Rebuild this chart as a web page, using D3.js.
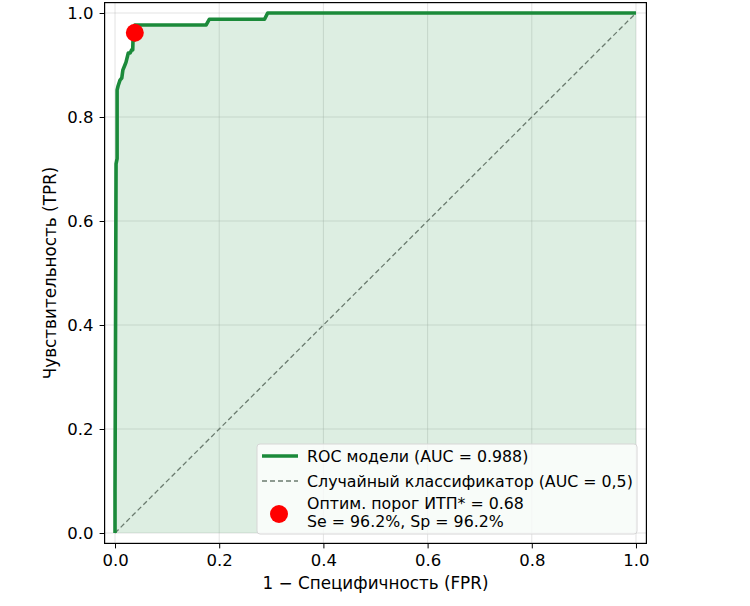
<!DOCTYPE html>
<html>
<head>
<meta charset="utf-8">
<title>ROC</title>
<script src="https://cdn.jsdelivr.net/npm/d3@7"></script>
<style>
  body { margin: 0; background: #fff; }
  text { font-family: "DejaVu Sans", sans-serif; }
</style>
</head>
<body>
<script>
// ROC curve points
var fpr = [0, 0, 0.002, 0.004, 0.004, 0.006, 0.0096, 0.013, 0.015, 0.019, 0.021, 0.0255, 0.029, 0.032, 0.034, 0.0345, 0.038, 0.038, 0.175, 0.181, 0.287, 0.293, 1.0];
var tpr = [0, 0.08, 0.71, 0.72, 0.852, 0.86, 0.871, 0.875, 0.89, 0.90, 0.905, 0.923, 0.923, 0.929, 0.929, 0.948, 0.948, 0.977, 0.977, 0.988, 0.988, 1.0, 1.0];
var ticks = [0, 0.2, 0.4, 0.6, 0.8, 1.0];
var optPoint = [0.038, 0.962];
var legendLabels = ['ROC модели (AUC = 0.988)', 'Случайный классификатор (AUC = 0,5)',
                    'Оптим. порог ИТП* = 0.68', 'Se = 96.2%, Sp = 96.2%'];

var width = 750, height = 606;
var green = '#1b8a3a';

var svg = d3.select('body').append('svg')
  .attr('width', width).attr('height', height);

var x = d3.scaleLinear().domain([-0.02, 1.02]).range([104.6, 646.4]);
var y = d3.scaleLinear().domain([-0.02, 1.02]).range([543.4, 2.6]);

var pts = fpr.map(function(d, i){ return [d, tpr[i]]; });

// grid
svg.append('g').selectAll('line.gx').data(ticks).enter().append('line')
  .attr('x1', function(d){ return x(d); }).attr('x2', function(d){ return x(d); })
  .attr('y1', y(-0.02)).attr('y2', y(1.02))
  .attr('stroke', '#b0b0b0').attr('stroke-opacity', 0.35).attr('stroke-width', 1);
svg.append('g').selectAll('line.gy').data(ticks).enter().append('line')
  .attr('y1', function(d){ return y(d); }).attr('y2', function(d){ return y(d); })
  .attr('x1', x(-0.02)).attr('x2', x(1.02))
  .attr('stroke', '#b0b0b0').attr('stroke-opacity', 0.35).attr('stroke-width', 1);

// fill under curve
var area = d3.area()
  .x(function(d){ return x(d[0]); })
  .y0(y(0)).y1(function(d){ return y(d[1]); });
svg.append('path').datum(pts).attr('d', area)
  .attr('fill', green).attr('fill-opacity', 0.15);

// random classifier
svg.append('line')
  .attr('x1', x(0)).attr('y1', y(0)).attr('x2', x(1)).attr('y2', y(1))
  .attr('stroke', '#6b7b6f').attr('stroke-width', 1.3).attr('stroke-dasharray', '5,3');

// ROC line
var line = d3.line().x(function(d){ return x(d[0]); }).y(function(d){ return y(d[1]); });
svg.append('path').datum(pts).attr('d', line)
  .attr('fill', 'none').attr('stroke', green).attr('stroke-width', 3.6)
  .attr('stroke-linejoin', 'round');

// optimal point
svg.append('circle')
  .attr('cx', x(optPoint[0])).attr('cy', y(optPoint[1])).attr('r', 9)
  .attr('fill', '#ff0000');

// axes
var xAxis = svg.append('g').attr('transform', 'translate(0,' + y(-0.02) + ')')
  .call(d3.axisBottom(x).tickValues(ticks).tickFormat(d3.format('.1f')).tickSize(5).tickPadding(6));
var yAxis = svg.append('g').attr('transform', 'translate(' + x(-0.02) + ',0)')
  .call(d3.axisLeft(y).tickValues(ticks).tickFormat(d3.format('.1f')).tickSize(5).tickPadding(6));
[xAxis, yAxis].forEach(function(a){
  a.select('.domain').remove();
  a.selectAll('text').attr('font-size', 16.5).attr('font-family', 'DejaVu Sans').attr('fill', '#000');
  a.selectAll('line').attr('stroke', '#000').attr('stroke-width', 1);
});

// frame
svg.append('rect')
  .attr('x', x(-0.02)).attr('y', y(1.02))
  .attr('width', x(1.02) - x(-0.02)).attr('height', y(-0.02) - y(1.02))
  .attr('fill', 'none').attr('stroke', '#000').attr('stroke-width', 1.2);

// axis titles
svg.append('text').attr('x', x(0.5)).attr('y', 589)
  .attr('text-anchor', 'middle').attr('font-size', 16.8)
  .text('1 \u2212 Специфичность (FPR)');
svg.append('text')
  .attr('transform', 'translate(56,' + y(0.5) + ') rotate(-90)')
  .attr('text-anchor', 'middle').attr('font-size', 16.8)
  .text('Чувствительность (TPR)');

// legend
var lg = svg.append('g');
lg.append('rect').attr('x', 257).attr('y', 444).attr('width', 380).attr('height', 90)
  .attr('rx', 3).attr('fill', '#fff').attr('fill-opacity', 0.8)
  .attr('stroke', '#d6d6d6').attr('stroke-width', 1);
lg.append('line').attr('x1', 262).attr('x2', 298).attr('y1', 456).attr('y2', 456)
  .attr('stroke', green).attr('stroke-width', 3.6);
lg.append('line').attr('x1', 262).attr('x2', 298).attr('y1', 481).attr('y2', 481)
  .attr('stroke', '#6b7b6f').attr('stroke-width', 1.3).attr('stroke-dasharray', '5,3');
lg.append('circle').attr('cx', 279).attr('cy', 514).attr('r', 9).attr('fill', '#ff0000');
var ly = [462, 487, 509, 527];
lg.selectAll('text.lt').data(legendLabels).enter().append('text')
  .attr('x', 307).attr('y', function(d, i){ return ly[i]; })
  .attr('font-size', 15.8).attr('fill', '#000')
  .text(function(d){ return d; });
</script>
</body>
</html>
